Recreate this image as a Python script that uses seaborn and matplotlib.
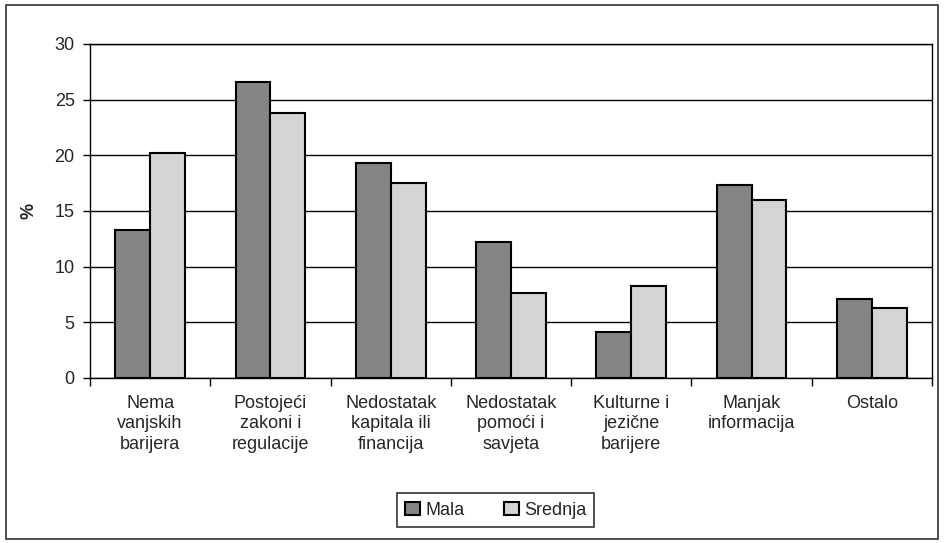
import pandas as pd
import matplotlib.pyplot as plt
import seaborn as sns
from matplotlib.patches import Rectangle

# data
categories = ["Nema\nvanjskih\nbarijera", "Postojeći\nzakoni i\nregulacije",
              "Nedostatak\nkapitala ili\nfinancija", "Nedostatak\npomoći i\nsavjeta",
              "Kulturne i\njezične\nbarijere", "Manjak\ninformacija", "Ostalo"]
mala = [13.3, 26.6, 19.3, 12.25, 4.1, 17.3, 7.1]
srednja = [20.2, 23.8, 17.5, 7.6, 8.3, 16.0, 6.3]

df = pd.DataFrame({
    "kategorija": categories * 2,
    "vrijednost": mala + srednja,
    "velicina": ["Mala"] * len(mala) + ["Srednja"] * len(srednja),
})

sns.set_theme(style="white")
plt.rcParams["font.family"] = ["Liberation Sans", "DejaVu Sans"]

fig = plt.figure(figsize=(9.44, 5.43), dpi=100)
ax = fig.add_axes([0.0953, 0.304, 0.892, 0.615])

sns.barplot(data=df, x="kategorija", y="vrijednost", hue="velicina",
            palette={"Mala": "#838486", "Srednja": "#d3d4d6"},
            width=0.58, gap=0, edgecolor="black", linewidth=1.5,
            errorbar=None, ax=ax, zorder=3)

ax.set_ylim(0, 30)
ax.set_xlim(-0.5, len(categories) - 0.5)
ax.set_yticks(range(0, 31, 5))
ax.yaxis.grid(True, color="black", linewidth=1)
ax.set_axisbelow(True)

# x ticks sit between the categories
ax.set_xticks([i - 0.5 for i in range(len(categories) + 1)], minor=True)
ax.tick_params(axis="x", which="minor", length=6, width=1, color="black", direction="out", bottom=True)
ax.tick_params(axis="x", which="major", length=0, labelsize=13, pad=12)
ax.tick_params(axis="y", length=5, width=1, color="black", direction="out", left=True, labelsize=13, pad=6)
for lab in ax.get_xticklabels():
    lab.set_verticalalignment("top")
    lab.set_linespacing(1.3)

for side in ["left", "bottom", "right", "top"]:
    ax.spines[side].set_visible(True)
    ax.spines[side].set_color("black")
    ax.spines[side].set_linewidth(1)

ax.set_xlabel("")
ax.set_ylabel("%", fontsize=13, fontweight="bold", labelpad=12)

leg = ax.legend(loc="center", bbox_to_anchor=(0.482, -0.396), ncol=2, frameon=True,
                fancybox=False, edgecolor="black", fontsize=13,
                handlelength=0.8, handleheight=0.8, columnspacing=2.2, handletextpad=0.3,
                borderpad=0.45)
leg.get_frame().set_linewidth(1.2)

# outer border around the whole chart
fig.patches.append(Rectangle((0.006, 0.008), 0.988, 0.982, transform=fig.transFigure,
                             fill=False, edgecolor="#333333", linewidth=1.2))

fig.savefig("out.png", dpi=100)
